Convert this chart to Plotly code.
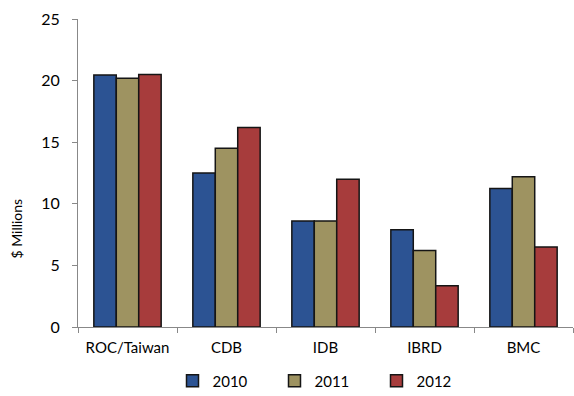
import plotly.graph_objects as go

categories = ["ROC/Taiwan", "CDB", "IDB", "IBRD", "BMC"]
years = ["2010", "2011", "2012"]
values_2010 = [20.45, 12.5, 8.6, 7.9, 11.25]
values_2011 = [20.2, 14.5, 8.6, 6.2, 12.2]
values_2012 = [20.5, 16.2, 12.0, 3.35, 6.5]
y_ticks = [0, 5, 10, 15, 20, 25]

series = [values_2010, values_2011, values_2012]
colors = ["#2c5393", "#9e9361", "#a73c3c"]

font_family = "Lato, 'Open Sans', sans-serif"

fig = go.Figure()
for name, vals, col in zip(years, series, colors):
    fig.add_trace(go.Bar(
        x=categories, y=vals, name=name,
        marker=dict(color=col, line=dict(color="#151515", width=1.5)),
    ))

fig.update_layout(
    width=574, height=396,
    margin=dict(l=78, r=1, t=19, b=69, autoexpand=False),
    paper_bgcolor="white", plot_bgcolor="white",
    barmode="group", bargap=0.32, bargroupgap=0,
    font=dict(family=font_family, size=14, color="#000000"),
    showlegend=True,
    legend=dict(orientation="h", x=0.5, xanchor="center", y=-0.175, yanchor="middle",
                font=dict(size=15), itemwidth=30, traceorder="normal",
                entrywidth=57),
    xaxis=dict(
        showline=True, linecolor="#888888", linewidth=1,
        ticks="outside", tickson="boundaries", ticklen=5, tickcolor="#888888",
        showgrid=False, tickfont=dict(size=15), ticklabelstandoff=7,
    ),
    yaxis=dict(
        range=[0, 25], tickvals=y_ticks, showline=True, linecolor="#888888",
        linewidth=1, ticks="outside", ticklen=5, tickcolor="#888888",
        showgrid=False, zeroline=False, tickfont=dict(size=16),
        ticklabelstandoff=9,
    ),
    annotations=[dict(
        text="$ Millions", textangle=-90, xref="paper", yref="paper",
        x=-0.125, y=0.32, xanchor="center", yanchor="middle",
        showarrow=False, font=dict(size=14),
    )],
)

fig.write_html("out.html")
